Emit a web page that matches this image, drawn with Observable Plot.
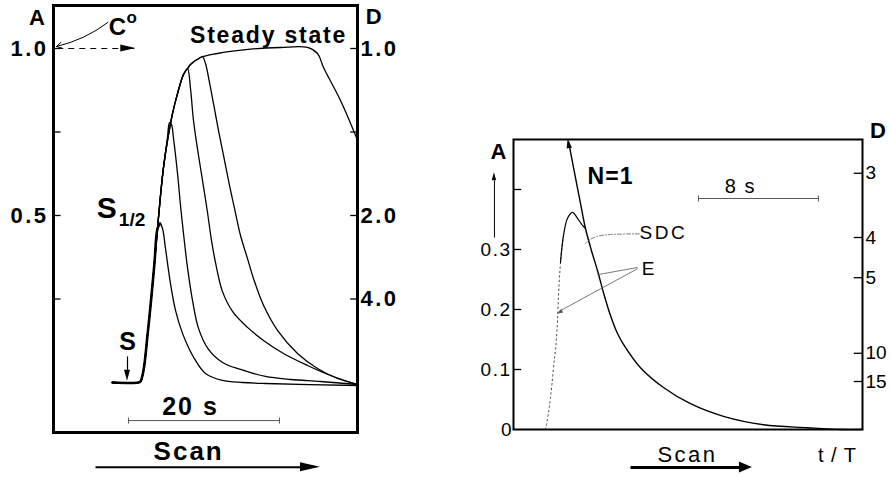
<!DOCTYPE html>
<html><head><meta charset="utf-8">
<script src="https://cdn.jsdelivr.net/npm/d3@7"></script>
<script src="https://cdn.jsdelivr.net/npm/@observablehq/plot@0.6"></script>
<style>
body{margin:0;background:#fff;}
#wrap{position:relative;width:890px;height:477px;overflow:hidden;background:#fff;}
#wrap svg{position:absolute;top:0;overflow:visible;}
</style></head><body><div id="wrap"></div>
<script>
// ---------- LEFT PANEL DATA (x: time in s from start S, y: absorbance A) ----------
const riseBase = [[-1.99,0],[1.457,0],[1.722,0.003],[2.119,0.036],[2.649,0.141],[3.179,0.260],[3.576,0.359],[3.974,0.461]];
const steadyState = [[4.371,0.560],[4.768,0.644],[5.298,0.725],[5.960,0.805],[6.623,0.865],[7.417,0.922],[7.947,0.940],[8.344,0.952],[9.669,0.973],[11.921,0.985],[16.291,0.998],[20.265,1.003],[23.841,1.003],[25.166,0.985],[25.960,0.943],[28.212,0.844],[30.464,0.725]];
const curve1Fall = [[4.305,0.476],[4.636,0.461],[5.033,0.401],[5.695,0.296],[6.358,0.216],[7.285,0.147],[8.079,0.105],[9.007,0.066],[10.331,0.027],[12.583,0.006],[15.232,0],[18.278,-0.003],[30.464,-0.009]];
const curve2Fall = [[5.298,0.734],[5.563,0.778],[5.828,0.772],[6.093,0.731],[6.623,0.626],[7.020,0.530],[7.417,0.446],[7.947,0.344],[8.609,0.246],[9.404,0.162],[10.728,0.099],[12.583,0.060],[14.967,0.039],[18.278,0.018],[21.589,0.009],[25.563,0.003],[30.464,-0.006]];
const curve3Fall = [[8.344,0.880],[8.742,0.784],[9.404,0.680],[9.934,0.605],[10.596,0.509],[11.126,0.425],[11.656,0.359],[12.583,0.272],[13.907,0.213],[15.894,0.165],[18.013,0.126],[20.662,0.087],[23.841,0.051],[26.887,0.021],[30.464,-0.006]];
const curve4Fall = [[9.934,0.976],[10.331,0.955],[10.861,0.898],[11.391,0.835],[12.053,0.754],[12.715,0.680],[13.510,0.590],[14.172,0.521],[14.967,0.440],[15.894,0.371],[16.689,0.311],[18.013,0.231],[19.868,0.156],[22.517,0.087],[25.166,0.042],[27.815,0.012],[30.464,-0.006]];
const leftTicks = [0.25, 0.5, 0.75, 1.0];
const leftLabels = [1.0, 0.5];
const dLeftLabels = ["1.0", "2.0", "4.0"];
const dLeftPos = [1.0, 0.5, 0.25];

// ---------- RIGHT PANEL DATA (x: time in s, y: A) ----------
const sdcCurve = [[3.667,0.48],[4.067,0.428],[4.467,0.377],[4.8,0.335],[5.2,0.298],[5.6,0.265],[6.0,0.228],[6.467,0.19],[6.933,0.16],[7.333,0.142],[8.467,0.103],[10.0,0.07],[11.8,0.043],[14.0,0.022],[16.67,0.008],[19.6,0.003],[21.8,0],[23.27,0]];
const eCurve = [[2.133,0],[2.467,0.053],[2.667,0.103],[2.933,0.182],[3.0,0.223],[3.133,0.278],[3.333,0.323],[3.6,0.352],[3.933,0.362],[4.267,0.352],[4.6,0.34],[4.8,0.335]];
const rightTicks = [0.1, 0.2, 0.3, 0.4];
const rightLabels = [0, 0.1, 0.2, 0.3];
const dRightLabels = ["3", "4", "5", "10", "15"];
const dRightPos = [0.427, 0.320, 0.253, 0.127, 0.080];

const FONT = "Liberation Sans, Arial, Helvetica, sans-serif";
const fx = d => d[0], fy = d => d[1];

// filled arrowhead drawn through the plot's scales
function head(x, y, angle, len, half, color = "black") {
  return (index, scales) => {
    const px = scales.x(x), py = scales.y(y);
    const a = angle * Math.PI / 180;
    const bx = px - len * Math.cos(a), by = py - len * Math.sin(a);
    const nx = -Math.sin(a) * half, ny = Math.cos(a) * half;
    return d3.create("svg:path")
      .attr("d", `M${px},${py}L${bx + nx},${by + ny}L${bx - nx},${by - ny}Z`)
      .attr("fill", color).node();
  };
}

// ---------- LEFT PLOT ----------
const L = {x0: -9.8, x1: 30.46, y0: -0.1497, y1: 1.1287};
const upTo = t => steadyState.filter(d => d[0] <= t);
const c1 = riseBase.concat(curve1Fall);
const c2 = riseBase.concat(upTo(4.8), curve2Fall);
const c3 = riseBase.concat(upTo(7.95), curve3Fall);
const c4 = riseBase.concat(upTo(9.67), curve4Fall);
const cs = riseBase.concat(steadyState);
const lineOpt = {x: fx, y: fy, curve: "catmull-rom", stroke: "black", strokeWidth: 1.3};
const B = "bold";

const left = Plot.plot({
  width: 420, height: 477,
  marginLeft: 53, marginRight: 63, marginTop: 5, marginBottom: 45,
  x: {domain: [L.x0, L.x1], axis: null},
  y: {domain: [L.y0, L.y1], axis: null},
  style: {fontFamily: FONT, background: "transparent", overflow: "visible"},
  marks: [
    Plot.line(c1, lineOpt),
    Plot.line(c2, lineOpt),
    Plot.line(c3, lineOpt),
    Plot.line(c4, lineOpt),
    Plot.line(cs, lineOpt),
    Plot.line(riseBase.concat([[4.305,0.476]]), {...lineOpt, strokeWidth: 2.6}),
    Plot.ruleY(leftTicks, {x1: L.x0, x2: L.x0 + 1.0, stroke: "black", strokeWidth: 1.3}),
    Plot.ruleY(leftTicks, {x1: L.x1 - 0.9, x2: L.x1, stroke: "black", strokeWidth: 1.3}),
    Plot.text(leftLabels, {x: L.x0, y: d => d, text: d => d.toFixed(1), textAnchor: "end", dx: -5, fontSize: 22, fontWeight: B}),
    Plot.text(dLeftLabels, {x: L.x1, y: (d, i) => dLeftPos[i], text: d => d, textAnchor: "start", dx: 3, fontSize: 22, fontWeight: B}),
    Plot.text(["A"], {x: -11.99, y: 1.09, text: d => d, fontSize: 22, fontWeight: B}),
    Plot.text(["D"], {x: 32.6, y: 1.093, text: d => d, fontSize: 22, fontWeight: B}),
    Plot.text(["C"], {x: -1.32, y: 1.063, text: d => d, fontSize: 24, fontWeight: B}),
    Plot.text(["o"], {x: 0.55, y: 1.092, text: d => d, fontSize: 17, fontWeight: B}),
    Plot.arrow([0], {x1: -2.6, y1: 1.078, x2: -9.4, y2: 1.006, bend: 12, headLength: 9, stroke: "black", strokeWidth: 1}),
    Plot.link([0], {x1: -9.3, y1: 1.0, x2: -0.5, y2: 1.0, stroke: "black", strokeWidth: 1, strokeDasharray: "6,5"}),
    Plot.link([0], {x1: -0.5, y1: 1.0, x2: 0.9, y2: 1.0, stroke: "black", strokeWidth: 1}),
    head(1.1, 1.0, 0, 15, 3.5),
    Plot.text(["Steady state"], {x: 18.68, y: 1.039, text: d => d, fontSize: 23, fontWeight: B}),
    Plot.text(["S"], {x: -2.75, y: 0.52, text: d => d, fontSize: 30, fontWeight: B}),
    Plot.text(["1/2"], {x: 0.6, y: 0.487, text: d => d, fontSize: 19, fontWeight: B}),
    Plot.text(["S"], {x: 0, y: 0.12, text: d => d, fontSize: 25, fontWeight: B}),
    Plot.link([0], {x1: 0, y1: 0.078, x2: 0, y2: 0.02, stroke: "black", strokeWidth: 1.2}),
    head(0, 0.004, 90, 11, 3),
    Plot.text(["20 s"], {x: 8.34, y: -0.072, text: d => d, fontSize: 25, fontWeight: B}),
    Plot.link([0], {x1: 0.13, y1: -0.114, x2: 20.13, y2: -0.114, stroke: "#555", strokeWidth: 1}),
    Plot.link([0.13, 20.13], {x1: d => d, x2: d => d, y1: -0.105, y2: -0.123, stroke: "#555", strokeWidth: 1}),
    Plot.text(["Scan"], {x: 8.1, y: -0.207, text: d => d, fontSize: 26, fontWeight: B}),
    Plot.link([0], {x1: -4.24, y1: -0.254, x2: 23.5, y2: -0.254, stroke: "black", strokeWidth: 2}),
    head(25.56, -0.254, 0, 20, 4.5),
    Plot.frame({stroke: "black", strokeWidth: 3})
  ]
});
left.style.left = "0px";

// ---------- RIGHT PLOT ----------
const R = {x0: 0, x1: 23.27, y0: 0, y1: 0.4833};
const right = Plot.plot({
  width: 470, height: 477,
  marginLeft: 93, marginRight: 28, marginTop: 139, marginBottom: 48,
  x: {domain: [R.x0, R.x1], axis: null},
  y: {domain: [R.y0, R.y1], axis: null},
  style: {fontFamily: FONT, background: "transparent", overflow: "visible"},
  marks: [
    Plot.line(sdcCurve, {x: fx, y: fy, curve: "catmull-rom", stroke: "black", strokeWidth: 1.4}),
    Plot.line(eCurve.filter(d => d[0] <= 3.34), {x: fx, y: fy, curve: "monotone-x", stroke: "#444", strokeWidth: 1, strokeDasharray: "1.5,3"}),
    Plot.line(eCurve.filter(d => d[0] >= 3.13), {x: fx, y: fy, curve: "catmull-rom", stroke: "black", strokeWidth: 1.2}),
    head(3.64, 0.483, -101, 9, 2.8),
    Plot.line([[8.4,0.326],[6.47,0.325],[5.6,0.322],[5.0,0.315],[4.8,0.31]], {x: fx, y: fy, curve: "catmull-rom", stroke: "#555", strokeWidth: 0.8, strokeDasharray: "4,2,1,2"}),
    Plot.link([0], {x1: 8.27, y1: 0.27, x2: 5.6, y2: 0.258, stroke: "#555", strokeWidth: 0.8}),
    Plot.link([0], {x1: 8.27, y1: 0.268, x2: 3.05, y2: 0.197, stroke: "#555", strokeWidth: 0.8}),
    head(2.93, 0.192, 150, 6, 2, "#555"),
    Plot.ruleY(rightTicks, {x1: R.x0, x2: R.x0 + 0.55, stroke: "black", strokeWidth: 1.3}),
    Plot.ruleY(dRightPos, {x1: R.x1 - 0.55, x2: R.x1, stroke: "black", strokeWidth: 1.3}),
    Plot.text(rightLabels, {x: R.x0, y: d => d, text: d => d === 0 ? "0" : d.toFixed(1), textAnchor: "end", dx: -2, fontSize: 19}),
    Plot.text(dRightLabels, {x: R.x1, y: (d, i) => dRightPos[i], text: d => d, textAnchor: "start", dx: 3, fontSize: 19}),
    Plot.text(["A"], {x: -1.0, y: 0.463, text: d => d, fontSize: 22, fontWeight: B}),
    Plot.link([0], {x1: -1.27, y1: 0.32, x2: -1.27, y2: 0.415, stroke: "black", strokeWidth: 1}),
    head(-1.27, 0.428, -90, 8, 2.2),
    Plot.text(["D"], {x: 24.3, y: 0.498, text: d => d, fontSize: 22, fontWeight: B}),
    Plot.text(["N=1"], {x: 6.47, y: 0.422, text: d => d, fontSize: 23, fontWeight: B}),
    Plot.text(["8 s"], {x: 15.13, y: 0.405, text: d => d, fontSize: 20}),
    Plot.link([0], {x1: 12.33, y1: 0.385, x2: 20.33, y2: 0.385, stroke: "#555", strokeWidth: 1}),
    Plot.link([12.33, 20.33], {x1: d => d, x2: d => d, y1: 0.39, y2: 0.38, stroke: "#555", strokeWidth: 1}),
    Plot.text(["SDC"], {x: 8.4, y: 0.328, text: d => d, textAnchor: "start", fontSize: 19}),
    Plot.text(["E"], {x: 8.55, y: 0.268, text: d => d, textAnchor: "start", fontSize: 19}),
    Plot.text(["Scan"], {x: 11.6, y: -0.043, text: d => d, fontSize: 22}),
    Plot.link([0], {x1: 7.8, y1: -0.0633, x2: 15.2, y2: -0.0633, stroke: "black", strokeWidth: 3}),
    head(15.93, -0.0633, 0, 13, 5.5),
    Plot.text(["t / T"], {x: 21.6, y: -0.043, text: d => d, fontSize: 20}),
    Plot.frame({stroke: "black", strokeWidth: 2})
  ]
});
right.style.left = "420px";

// letter spacing (tracking) seen in the reference lettering
const spacingLeft = {"Steady state": 1.8, "1.0": 2.5, "0.5": 2.5, "2.0": 2.5, "4.0": 2.5, "20 s": 2, "Scan": 2};
const spacingRight = {"SDC": 2.5, "Scan": 2.5, "8 s": 1.5, "t / T": 1, "N=1": 1, "0.1": 1.5, "0.2": 1.5, "0.3": 1.5};
[[left, spacingLeft], [right, spacingRight]].forEach(([svg, map]) => {
  svg.querySelectorAll("text").forEach(t => {
    const s = map[t.textContent];
    if (s) t.setAttribute("letter-spacing", s);
  });
});
const wrap = document.getElementById("wrap");
wrap.appendChild(left);
wrap.appendChild(right);
</script></body></html>
